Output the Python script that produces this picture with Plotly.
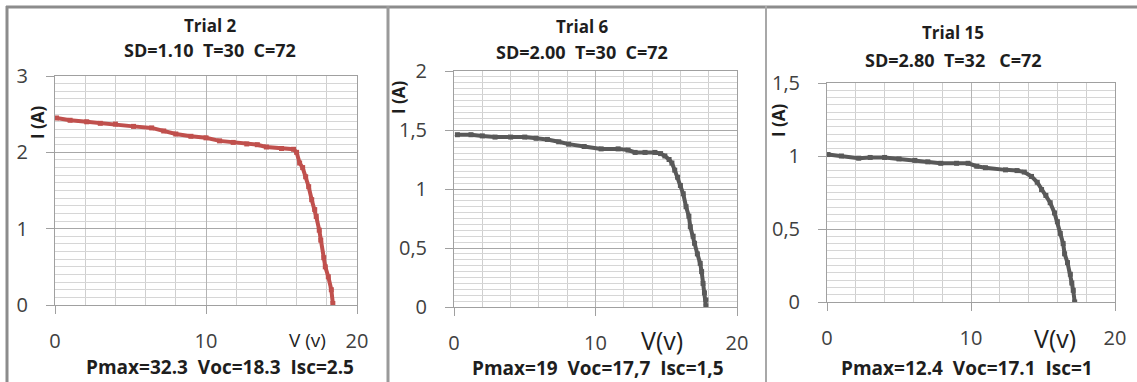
import plotly.graph_objects as go

W, H = 1137, 382

# ---------------- data ----------------
v_trial2 = [0.1, 1.0, 2.1, 3.0, 4.0, 5.2, 6.4, 7.2, 8.0, 9.0, 10.0, 10.9, 11.8, 12.7, 13.4, 14.0, 15.0, 15.8, 16.0, 16.2, 16.4, 16.6, 16.8, 17.0, 17.2, 17.3, 17.5, 17.6, 17.8, 17.9, 18.1, 18.3, 18.4]
i_trial2 = [2.45, 2.42, 2.40, 2.38, 2.37, 2.34, 2.32, 2.28, 2.24, 2.21, 2.19, 2.15, 2.13, 2.11, 2.10, 2.07, 2.05, 2.04, 2.00, 1.86, 1.80, 1.68, 1.55, 1.38, 1.25, 1.16, 0.98, 0.85, 0.62, 0.50, 0.37, 0.20, 0.02]

v_trial6 = [0.24, 1.2, 2.0, 2.9, 4.0, 5.0, 5.8, 6.6, 7.4, 8.1, 9.2, 10.4, 11.6, 12.3, 12.8, 13.5, 14.2, 14.6, 14.9, 15.2, 15.4, 15.6, 15.8, 16.0, 16.2, 16.4, 16.6, 16.7, 16.9, 17.0, 17.2, 17.4, 17.5, 17.6, 17.7, 17.8, 17.8]
i_trial6 = [1.46, 1.46, 1.45, 1.44, 1.44, 1.44, 1.43, 1.42, 1.40, 1.38, 1.36, 1.34, 1.34, 1.33, 1.31, 1.31, 1.31, 1.30, 1.28, 1.25, 1.22, 1.16, 1.10, 1.03, 0.96, 0.85, 0.77, 0.68, 0.60, 0.54, 0.45, 0.37, 0.30, 0.20, 0.12, 0.06, 0.01]

v_trial15 = [0.07, 1.0, 2.2, 3.0, 4.0, 5.0, 6.1, 7.0, 7.9, 9.0, 9.8, 10.4, 11.0, 12.4, 13.2, 13.7, 14.2, 14.6, 14.9, 15.2, 15.5, 15.8, 16.0, 16.2, 16.4, 16.5, 16.7, 16.9, 17.0, 17.1, 17.2]
i_trial15 = [1.01, 1.00, 0.985, 0.99, 0.99, 0.98, 0.97, 0.96, 0.95, 0.95, 0.95, 0.93, 0.92, 0.905, 0.90, 0.89, 0.86, 0.82, 0.77, 0.73, 0.68, 0.61, 0.55, 0.47, 0.40, 0.33, 0.27, 0.19, 0.13, 0.08, 0.0]

titles = ["Trial 2", "Trial 6", "Trial 15"]
subtitles = ["SD=1.10  T=30  C=72", "SD=2.00  T=30  C=72", "SD=2.80  T=32   C=72"]
footers = ["Pmax=32.3  Voc=18.3  Isc=2.5", "Pmax=19  Voc=17,7  Isc=1,5", "Pmax=12.4  Voc=17.1  Isc=1"]
x_labels = ["V (v)", "V(v)", "V(v)"]
y_label = "I (A)"
y_ranges = [[0, 3], [0, 2], [0, 1.5]]
y_major = [1, 0.5, 0.5]
y_minor = [0.1, 0.05, 0.05]
colors = ["#C0504D", "#595959", "#595959"]

# ---------------- layout (pixel geometry) ----------------
def px(x):
    return x / W

def py(y):
    return 1 - y / H

plot_boxes = [  # left, right, top, bottom in pixels
    (55, 357, 76, 305),
    (454, 737, 71, 307),
    (827, 1115, 83, 302),
]

FONT = "'Open Sans', Lato, Arial, sans-serif"
TICK_COLOR = "#404040"
TEXT_COLOR = "#1e1e1e"

fig = go.Figure()
series = [(v_trial2, i_trial2), (v_trial6, i_trial6), (v_trial15, i_trial15)]

for k, ((vx, iy), box) in enumerate(zip(series, plot_boxes)):
    xa = "x" if k == 0 else f"x{k+1}"
    ya = "y" if k == 0 else f"y{k+1}"
    fig.add_trace(go.Scatter(
        x=vx, y=iy, xaxis=xa, yaxis=ya, mode="lines+markers",
        line=dict(color=colors[k], width=4),
        marker=dict(color=colors[k], size=5, symbol="square"),
        showlegend=False, hoverinfo="skip",
    ))
    l, r, t, b = box
    xkey = "xaxis" if k == 0 else f"xaxis{k+1}"
    ykey = "yaxis" if k == 0 else f"yaxis{k+1}"
    fig.layout[xkey] = dict(
        domain=[px(l), px(r)], anchor=ya, range=[0, 20], dtick=10, tick0=0,
        showgrid=True, gridcolor="#b4b4b4", gridwidth=1,
        minor=dict(dtick=2, showgrid=True, gridcolor="#cfcfcf", gridwidth=1, ticks=""),
        ticks="outside", ticklen=8, tickcolor="#a0a0a0",
        showline=True, linecolor="#a0a0a0", linewidth=1, mirror=True,
        zeroline=False, tickfont=dict(family=FONT, size=20, color=TICK_COLOR),
        ticklabelstandoff=10, fixedrange=True, automargin=False,
    )
    fig.layout[ykey] = dict(
        domain=[py(b), py(t)], anchor=xa, range=y_ranges[k], dtick=y_major[k], tick0=0,
        showgrid=True, gridcolor="#a8a8a8", gridwidth=1,
        minor=dict(dtick=y_minor[k], showgrid=True, gridcolor="#d6d6d6", gridwidth=1, ticks=""),
        ticks="outside", ticklen=8, tickcolor="#a0a0a0",
        showline=True, linecolor="#a0a0a0", linewidth=1, mirror=True,
        zeroline=False, tickfont=dict(family=FONT, size=20, color=TICK_COLOR),
        ticklabelstandoff=14, fixedrange=True, automargin=False,
    )

annotations = []
title_pos = [(210, 25, 50), (582, 27, 52), (953, 33, 60)]
footer_pos = [(220, 367), (598, 368), (967, 368)]
xlab_pos = [(307, 340, 19), (662, 340, 25), (1055, 338, 25)]
ylab_pos = [(37, 122), (398, 97), (778, 120)]

def note(x, y, text, size, angle=0, color=TEXT_COLOR):
    return dict(x=px(x), y=py(y), xref="paper", yref="paper", text=text, textangle=angle,
                xanchor="center", yanchor="middle", showarrow=False,
                font=dict(family=FONT, size=size, color=color))

for k in range(3):
    cx, ty, sy = title_pos[k]
    annotations.append(note(cx, ty, f"<b>{titles[k]}</b>", 17))
    annotations.append(note(cx, sy, f"<b>{subtitles[k]}</b>", 18))
    fx, fy = footer_pos[k]
    annotations.append(note(fx, fy, f"<b>{footers[k]}</b>", 19))
    lx, ly, ls = xlab_pos[k]
    annotations.append(note(lx, ly, x_labels[k], ls))
    yx, yy = ylab_pos[k]
    annotations.append(note(yx, yy, f"<b>{y_label}</b>", 17, angle=-90))

shapes = [
    dict(type="line", xref="paper", yref="paper", x0=px(6), x1=1, y0=py(7), y1=py(7),
         line=dict(color="#8c8c8c", width=3)),
    dict(type="line", xref="paper", yref="paper", x0=px(7), x1=px(7), y0=py(6), y1=0,
         line=dict(color="#8c8c8c", width=3)),
    dict(type="line", xref="paper", yref="paper", x0=px(388), x1=px(388), y0=py(6), y1=0,
         line=dict(color="#9a9a9a", width=3)),
    dict(type="line", xref="paper", yref="paper", x0=px(766), x1=px(766), y0=py(6), y1=0,
         line=dict(color="#a8a8a8", width=2)),
]

fig.update_layout(
    width=W, height=H, autosize=False,
    margin=dict(l=0, r=0, t=0, b=0, pad=0, autoexpand=False),
    paper_bgcolor="white", plot_bgcolor="white",
    separators=",.", annotations=annotations, shapes=shapes,
    font=dict(family=FONT),
)

fig.write_html(
    "out.html",
    config={"displayModeBar": False, "responsive": False},
    post_script="document.body.style.margin='0px';document.body.style.padding='0px';document.documentElement.style.overflow='hidden';",
)
